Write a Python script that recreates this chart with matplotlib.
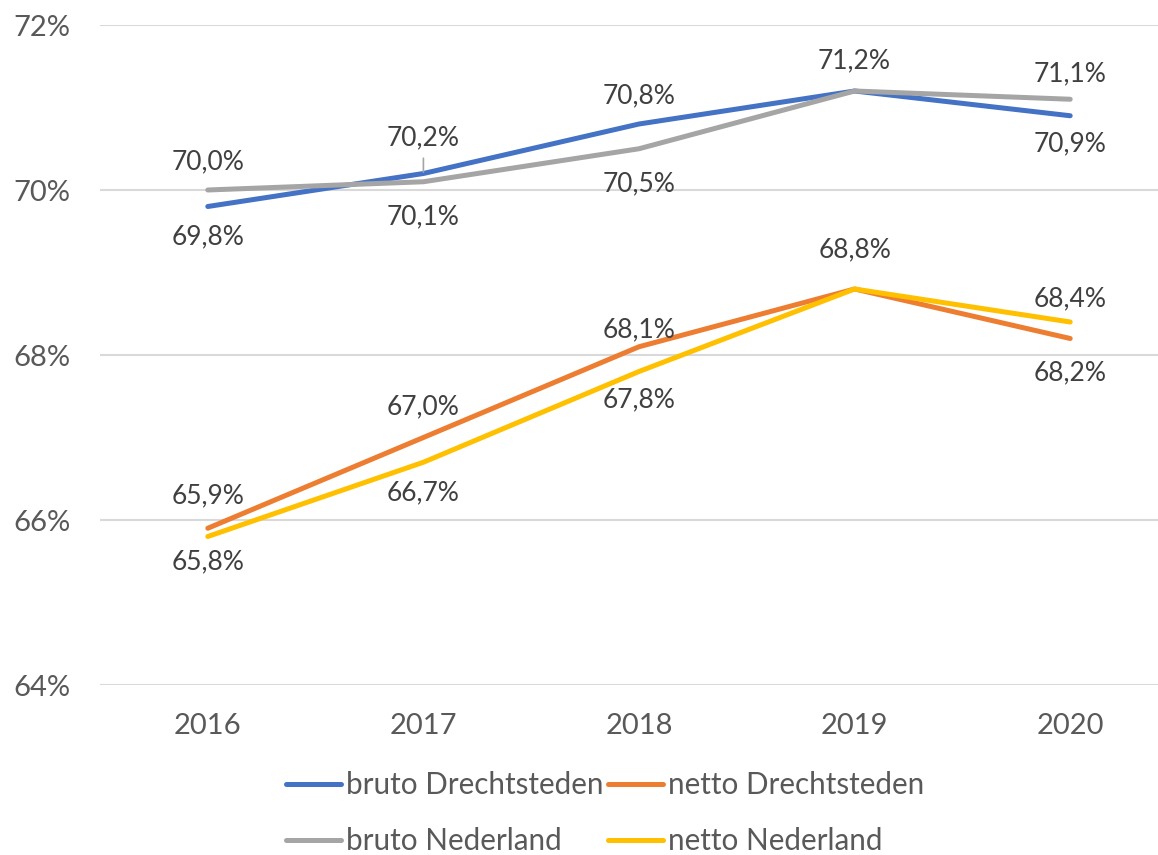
import matplotlib
matplotlib.use('Agg')
import matplotlib.pyplot as plt
from matplotlib.ticker import FuncFormatter

plt.rcParams['font.family'] = ['Lato', 'DejaVu Sans']

# data
years = ['2016', '2017', '2018', '2019', '2020']
bruto_drecht = [69.8, 70.2, 70.8, 71.2, 70.9]
netto_drecht = [65.9, 67.0, 68.1, 68.8, 68.2]
bruto_nl = [70.0, 70.1, 70.5, 71.2, 71.1]
netto_nl = [65.8, 66.7, 67.8, 68.8, 68.4]

# label placement per series: offset in points (positive = above), None = no label
lab_bd = [-22, 26, 20, 22, -20]
lab_bn = [20, -25, -25, None, 18.5]
lab_nd = [23.5, 22, 12, 28, -25]
lab_nn = [-18.5, -22, -20.5, None, 17]

grey_txt = '#595959'

fig = plt.figure(figsize=(11.58, 8.55), dpi=100)
ax = fig.add_axes([100 / 1158, 1 - 685 / 855, 1078 / 1158, 660 / 855])

x = list(range(len(years)))
series = [
    ('bruto Drechtsteden', bruto_drecht, '#4472C4', lab_bd),
    ('bruto Nederland', bruto_nl, '#A5A5A5', lab_bn),
    ('netto Drechtsteden', netto_drecht, '#ED7D31', lab_nd),
    ('netto Nederland', netto_nl, '#FFC000', lab_nn),
]
lines = []
for name, vals, col, labs in series:
    ln, = ax.plot(x, vals, color=col, lw=3.6, solid_capstyle='round', label=name, zorder=3)
    lines.append(ln)

for name, vals, col, labs in series:
    for i, (v, off) in enumerate(zip(vals, labs)):
        if off is None:
            continue
        txt = ('%.1f%%' % v).replace('.', ',')
        ax.annotate(txt, (i, v), xytext=(0, off), textcoords='offset points',
                    ha='center', va='center', fontsize=19, color='#404040', zorder=4)

# small leader line at 2017 bruto Drechtsteden
ax.annotate('', (1, bruto_drecht[1]), xytext=(0, 11), textcoords='offset points',
            arrowprops=dict(arrowstyle='-', color='#A5A5A5', lw=1.2, shrinkA=0, shrinkB=1))

ax.set_xlim(-0.5, 4.5)
ax.set_ylim(64, 72)
ax.set_yticks([64, 66, 68, 70, 72])
ax.yaxis.set_major_formatter(FuncFormatter(lambda v, p: '%d%%' % v))
ax.set_xticks(x)
ax.set_xticklabels(years)
ax.tick_params(axis='both', length=0, labelsize=21, colors=grey_txt)
ax.tick_params(axis='x', pad=20)
ax.tick_params(axis='y', pad=21)
ax.grid(axis='y', color='#D9D9D9', lw=1.5)
ax.set_axisbelow(True)
for s in ax.spines.values():
    s.set_visible(False)

fig.legend(handles=lines, loc='center', bbox_to_anchor=(605 / 1158, 1 - 813 / 855), ncol=2,
           frameon=False, fontsize=21.3, handlelength=1.86, handletextpad=0.17,
           columnspacing=0.17, labelspacing=0.95, labelcolor=grey_txt, borderpad=0)

fig.savefig('out.png', dpi=100)
